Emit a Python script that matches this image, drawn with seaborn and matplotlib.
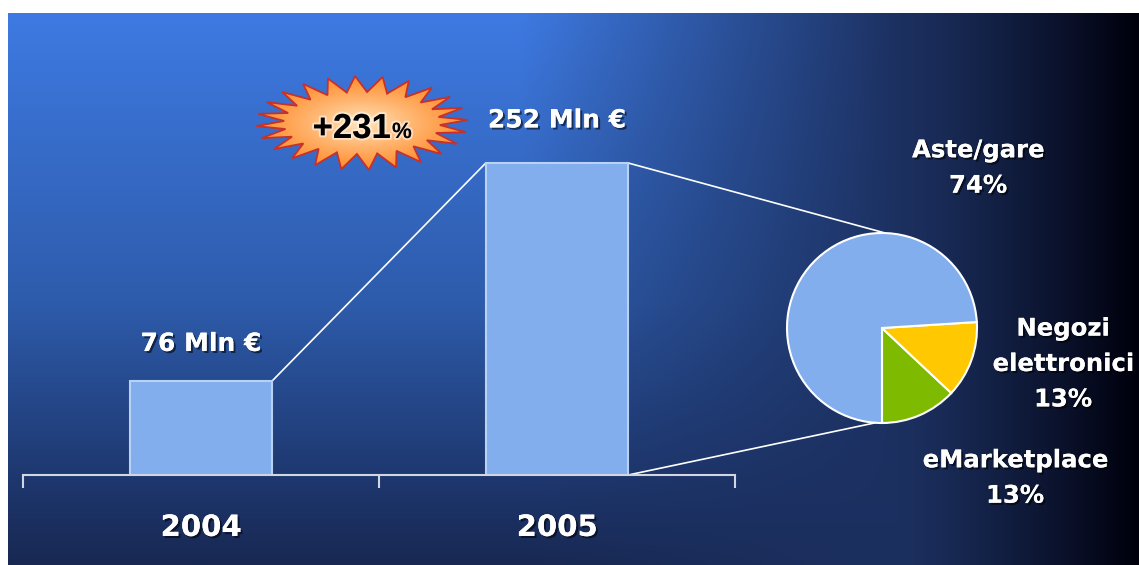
import numpy as np
import pandas as pd
import matplotlib
matplotlib.use("Agg")
import matplotlib.pyplot as plt
import matplotlib.patheffects as pe
from matplotlib.patches import Polygon, ConnectionPatch
import seaborn as sns

# ---------------- data ----------------
years = ["2004", "2005"]
values = [76, 252]
value_labels = ["76 Mln €", "252 Mln €"]
growth_text = "+231"
growth_unit = "%"
segments = ["eMarketplace", "Negozi\nelettronici", "Aste/gare"]
shares = [13, 13, 74]
seg_colors = ["#7dba00", "#ffc800", "#82aeee"]

sns.set_theme(style="white")
plt.rcParams["font.family"] = ["DejaVu Sans"]

W, H = 1139, 565
fig = plt.figure(figsize=(W / 100, H / 100), dpi=100, facecolor="white")

def fr(x0, y0, x1, y1):
    """pixel box (top-left origin) -> figure fraction rect"""
    return [x0 / W, (H - y1) / H, (x1 - x0) / W, (y1 - y0) / H]

# ---------------- background gradient ----------------
bx0, by0 = 8, 13
bg = fig.add_axes(fr(bx0, by0, W, H), zorder=0)
xs = np.linspace(bx0, W, 600)
ys = np.linspace(by0, H, 300)
X, Y = np.meshgrid(xs, ys)
ystops = [13, 300, 475, 565]
cols = np.array([[62, 122, 226], [46, 92, 172], [30, 56, 112], [24, 40, 82]], float)
V = np.stack([np.interp(Y, ystops, cols[:, i]) for i in range(3)], axis=-1)
navy = np.array([28, 48, 96], float)
h = np.clip((X - 520) / 380, 0, 1)[..., None]
C = V * (1 - h) + navy * h
k = (np.clip((X - 900) / 239, 0, 1) ** 1.2)[..., None]
C = C * (1 - k) + np.array([0, 0, 12], float) * k
bg.imshow(C / 255, aspect="auto", extent=[0, 1, 0, 1], interpolation="bilinear")
bg.set_axis_off()

# ---------------- bar chart ----------------
base_y, top_y = 475, 13
px_per_unit = (475 - 163) / 252
ax = fig.add_axes(fr(23, top_y, 735, base_y), zorder=2)
ax.patch.set_alpha(0)
df = pd.DataFrame({"year": years, "value": values})
sns.barplot(data=df, x="year", y="value", ax=ax, color="#82aeee", width=0.4,
            edgecolor="#b9d1f3", linewidth=1.5, saturation=1)
ax.set_xlim(-0.5, 1.5)
ax.set_ylim(0, (base_y - top_y) / px_per_unit)
for s in ["top", "left", "right"]:
    ax.spines[s].set_visible(False)
ax.spines["bottom"].set_color("#d0d6e2")
ax.spines["bottom"].set_linewidth(1.5)
ax.set_yticks([])
ax.set_xlabel("")
ax.set_ylabel("")
ax.set_xticks([0, 1])
ax.set_xticklabels(years)
ax.set_xticks([-0.5, 0.5, 1.5], minor=True)
ax.tick_params(axis="x", which="major", length=0, pad=28, labelsize=21,
               labelcolor="white")
ax.tick_params(axis="x", which="minor", length=9, width=1.5, color="#d0d6e2",
               direction="out", bottom=True)
shadow = [pe.withSimplePatchShadow(offset=(1.5, -1.5), shadow_rgbFace="black", alpha=0.55), pe.Normal()]
for lbl in ax.get_xticklabels():
    lbl.set_fontweight("bold")
    lbl.set_path_effects(shadow)

label_offsets = [18, 22]
for i, (v, t) in enumerate(zip(values, value_labels)):
    ax.annotate(t, (i, v), xytext=(0, label_offsets[i]), textcoords="offset points",
                ha="center", va="bottom", color="white", fontsize=18,
                fontweight="bold", path_effects=shadow)

# ---------------- pie ----------------
pcx, pcy, pr = 882, 328, 95
axp = fig.add_axes(fr(pcx - pr, pcy - pr, pcx + pr, pcy + pr), zorder=3)
axp.pie(shares, colors=seg_colors, startangle=-90, counterclock=True,
        wedgeprops=dict(edgecolor="white", linewidth=1.5), radius=1)
axp.set_xlim(-1, 1)
axp.set_ylim(-1, 1)
axp.set_axis_off()

# connector lines (bar axes data -> pie axes data)
bw = 0.2
conns = [((0 + bw, values[0]), ax, (1 - bw, values[1]), ax),
         ((1 + bw, values[1]), ax, (np.cos(np.radians(88)), np.sin(np.radians(88))), axp),
         ((1 + bw, 0), ax, (np.cos(np.radians(-94)), np.sin(np.radians(-94))), axp)]
for xa, axa, xb, axb in conns:
    cp = ConnectionPatch(xa, xb, coordsA=axa.transData, coordsB=axb.transData,
                         color="white", lw=1.2, zorder=1)
    fig.add_artist(cp)

# ---------------- overlay (decorations & pie labels) ----------------
ov = fig.add_axes([0, 0, 1, 1], zorder=4)
ov.set_xlim(0, W)
ov.set_ylim(H, 0)
ov.set_axis_off()
ov.patch.set_alpha(0)

pie_label_pos = [(1015, 478), (1063, 364), (978, 168)]
for (lx, ly), seg, sh in zip(pie_label_pos, segments, shares):
    ov.text(lx, ly, f"{seg}\n{sh}%", ha="center", va="center", color="white",
            fontsize=17.5, fontweight="bold", linespacing=1.6, path_effects=shadow)

# starburst
sx, sy = 362, 123
n = 24
ang = np.linspace(0, 2 * np.pi, 2 * n, endpoint=False) + np.pi / (2 * n)
rx = np.where(np.arange(2 * n) % 2 == 0, 106, 78)
ry = np.where(np.arange(2 * n) % 2 == 0, 47, 31)
pts = np.column_stack([sx + rx * np.cos(ang), sy - ry * np.sin(ang)])
star = Polygon(pts, closed=True, facecolor="none", edgecolor="#c8302a", lw=1.3, zorder=6)
ov.add_patch(star)
gx = np.linspace(-1, 1, 200)
GX, GY = np.meshgrid(gx, gx)
R = np.clip(np.sqrt(GX ** 2 + GY ** 2), 0, 1)[..., None]
inner = np.array([255, 236, 200]) / 255
outer = np.array([255, 140, 45]) / 255
G = inner * (1 - R ** 0.8) + outer * R ** 0.8
im = ov.imshow(G, extent=[sx - 106, sx + 106, sy + 47, sy - 47], aspect="auto",
               zorder=5, interpolation="bilinear")
clip = Polygon(pts, closed=True, transform=ov.transData)
im.set_clip_path(clip)
ov.set_xlim(0, W)
ov.set_ylim(H, 0)

glow = [pe.withStroke(linewidth=3, foreground=(1, 1, 1, 0.5))]
ov.text(391, 138, growth_text, ha="right", va="baseline", fontsize=25,
        fontweight="bold", color="black", family=["Liberation Sans", "DejaVu Sans"],
        zorder=7, path_effects=glow)
ov.text(392, 138, growth_unit, ha="left", va="baseline", fontsize=16,
        fontweight="bold", color="black", family=["Liberation Sans", "DejaVu Sans"],
        zorder=7, path_effects=glow)

fig.savefig("out.png", dpi=100, facecolor="white")
